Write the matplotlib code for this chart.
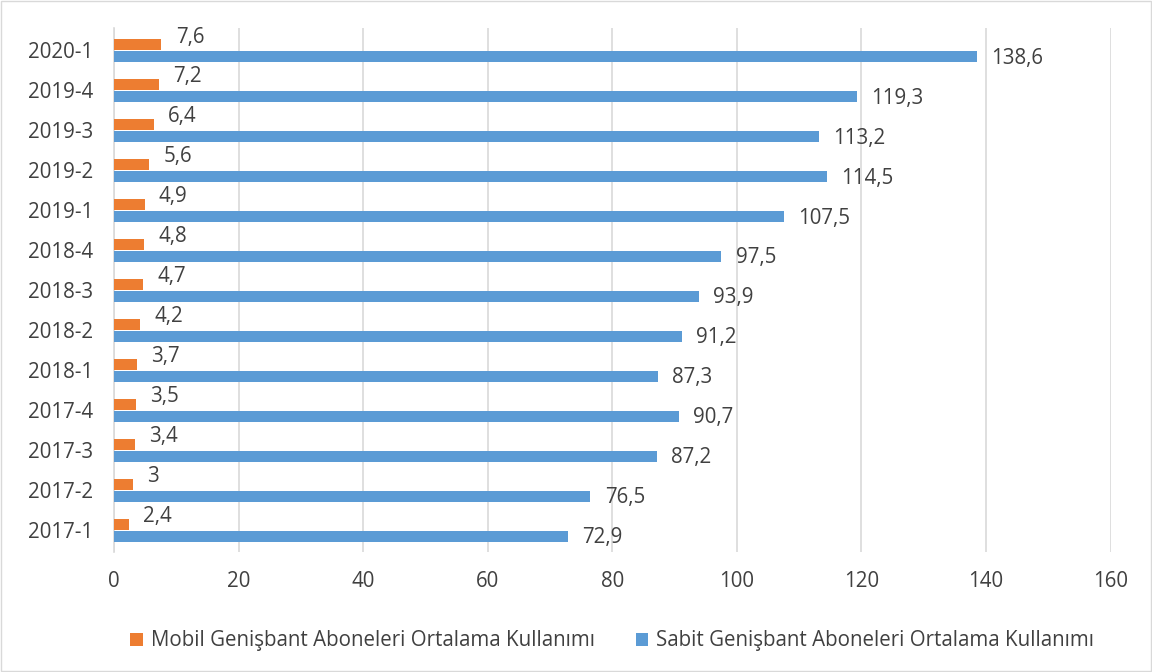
import matplotlib

matplotlib.use("Agg")
import matplotlib.pyplot as plt  # noqa: E402
import numpy as np  # noqa: E402
from matplotlib.patches import Rectangle  # noqa: E402

# Bottom -> top, as drawn on the y axis.
PERIODS = ["2017-1", "2017-2", "2017-3", "2017-4", "2018-1", "2018-2", "2018-3",
           "2018-4", "2019-1", "2019-2", "2019-3", "2019-4", "2020-1"]
MOBILE = [2.4, 3, 3.4, 3.5, 3.7, 4.2, 4.7, 4.8, 4.9, 5.6, 6.4, 7.2, 7.6]
FIXED = [72.9, 76.5, 87.2, 90.7, 87.3, 91.2, 93.9, 97.5, 107.5, 114.5, 113.2, 119.3, 138.6]
MOBILE_LABEL = "Mobil Genişbant Aboneleri Ortalama Kullanımı"
FIXED_LABEL = "Sabit Genişbant Aboneleri Ortalama Kullanımı"

ORANGE = "#ED7D31"
BLUE = "#5B9BD5"
TEXT = "#404040"
GRID = "#d9d9d9"
FS = 14.8


def fmt(v: float) -> str:
    return f"{v:g}".replace(".", ",")


plt.rcParams.update({
    "font.family": ["Open Sans", "DejaVu Sans"],
    "font.size": FS,
})

fig = plt.figure(figsize=(11.52, 6.72), dpi=100)
fig.patches.append(Rectangle((0.001, 0.001), 0.998, 0.997, transform=fig.transFigure,
                             fill=False, edgecolor="#d9d9d9", linewidth=1))
ax = fig.add_axes([0.099, 0.179, 0.865, 0.779])

y = np.arange(len(PERIODS))
h = 0.27
ax.barh(y + 0.14, MOBILE, height=h, color=ORANGE, label=MOBILE_LABEL, zorder=3)
ax.barh(y - 0.16, FIXED, height=h, color=BLUE, label=FIXED_LABEL, zorder=3)

for yi, m, f in zip(y, MOBILE, FIXED):
    ax.text(m + 2.3, yi + 0.33, fmt(m), va="center", ha="left", fontsize=FS, color=TEXT)
    ax.text(f + 2.3, yi - 0.2, fmt(f), va="center", ha="left", fontsize=FS, color=TEXT)

ax.set_xlim(0, 160)
ax.set_xticks(range(0, 161, 20))
ax.set_ylim(-0.55, len(PERIODS) - 0.45)
ax.set_yticks(y, PERIODS)
ax.tick_params(length=0, labelsize=FS, colors=TEXT)
ax.tick_params(axis="x", pad=14)
ax.tick_params(axis="y", pad=15)
ax.xaxis.grid(True, color=GRID, linewidth=1.2, zorder=0)
ax.set_axisbelow(True)
for side in ("top", "right", "bottom"):
    ax.spines[side].set_visible(False)
ax.spines["left"].set_color(GRID)
ax.spines["left"].set_linewidth(1.2)

ax.legend(loc="upper center", bbox_to_anchor=(0.5, -0.115), ncol=2, frameon=False,
          fontsize=FS, handlelength=0.6, handleheight=0.6, columnspacing=2.0,
          handletextpad=0.4, labelcolor=TEXT)

fig.savefig("out.png", dpi=100)
